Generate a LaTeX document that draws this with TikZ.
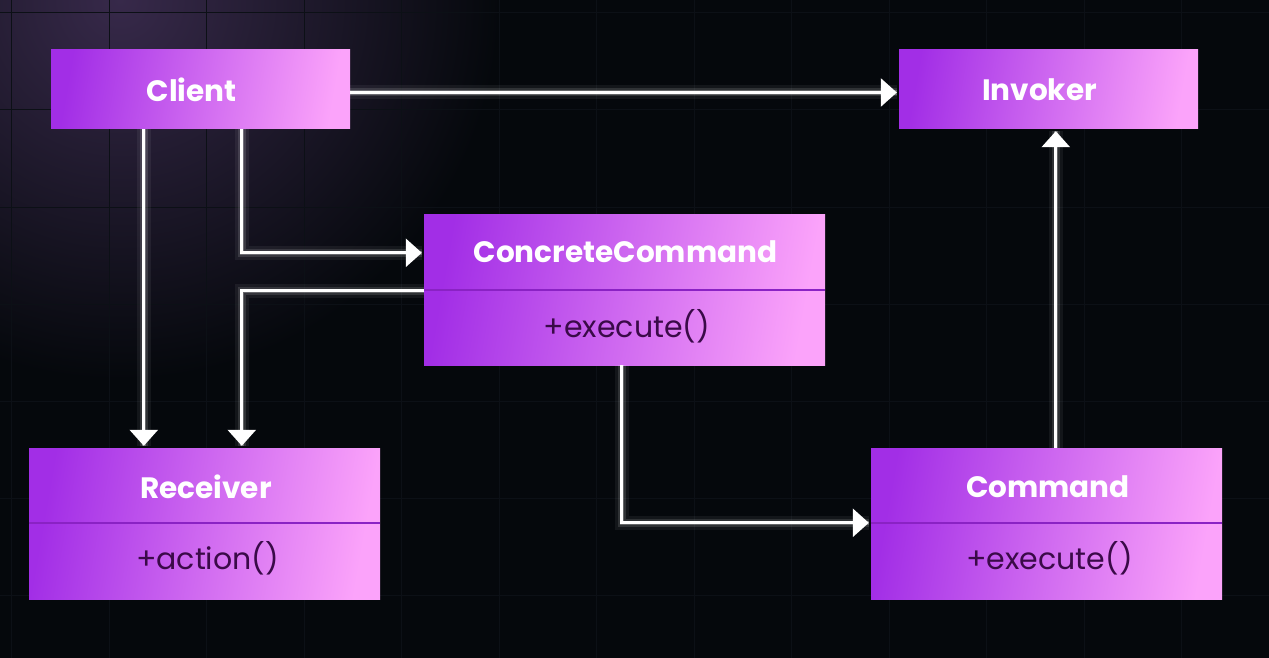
\documentclass[tikz,border=0pt]{standalone}
\usepackage{fontspec}
\setmainfont{Poppins}
\newfontfamily\popbold{Poppins Bold}
\usetikzlibrary{arrows.meta,calc}
\definecolor{bgc}{HTML}{05080C}
\definecolor{gridc}{HTML}{0C1016}
\definecolor{glowc}{HTML}{37294A}
\definecolor{boxl}{HTML}{A22EE6}
\definecolor{boxr}{HTML}{FBA3FA}
\definecolor{divc}{HTML}{8A22C4}
\definecolor{methc}{HTML}{3A0A48}
\tikzset{
  box/.style={draw=none, rectangle, inner sep=0pt, left color=boxl, right color=boxr, shading angle=80},
  title/.style={font=\popbold\fontsize{29.5}{34}\selectfont, text=white},
  meth/.style={font=\fontsize{30}{34}\selectfont, text=methc},
  divline/.style={draw=divc, line width=1.6pt},
  conn/.style={draw=white, line width=2.8pt, -{Triangle[width=28pt,length=16pt]}, shorten >=2pt,
    preaction={draw=white, draw opacity=0.06, line width=14pt, -},
    preaction={draw=white, draw opacity=0.12, line width=8pt, -},
    preaction={draw=white, draw opacity=0.25, line width=4.5pt, -}},
}
\begin{document}
\begin{tikzpicture}[x=1pt,y=-1pt]
\useasboundingbox (0,0) rectangle (1269,658);
\begin{scope}
\clip (0,0) rectangle (1269,658);
\fill[bgc] (0,0) rectangle (1269,658);
\shade[inner color=glowc, outer color=bgc] (120,0) circle (380);
\foreach \i in {0,...,12} {\draw[gridc, line width=1pt] (11.5+97.5*\i,0) -- (11.5+97.5*\i,658);}
\foreach \j in {0,...,6} {\draw[gridc, line width=1pt] (0,13+97*\j) -- (1269,13+97*\j);}
\end{scope}

% boxes
\node[box, minimum width=299pt, minimum height=79pt] (client) at (200.5,89.5) {};
\node[title] (clientt) at (191.5,89.5) {Client};
\node[box, minimum width=299pt, minimum height=79pt] (invoker) at (1048.5,89.5) {};
\node[title] (invokert) at (1039.5,89.5) {Invoker};

\node[box, minimum width=401pt, minimum height=151pt] (cc) at (624.5,289.5) {};
\node[title] (cct) at (625.5,252) {ConcreteCommand};
\node[meth] (ccm) at (627,326) {+execute()};
\draw[divline] ($(cc.north west)+(0,76)$) -- ($(cc.north east)+(0,76)$);

\node[box, minimum width=351pt, minimum height=151pt] (receiver) at (204.5,523.5) {};
\node[title] (receivert) at (206,487) {Receiver};
\node[meth] (receiverm) at (207.5,558) {+action()};
\draw[divline] ($(receiver.north west)+(0,75)$) -- ($(receiver.north east)+(0,75)$);

\node[box, minimum width=351pt, minimum height=151pt] (command) at (1046.5,523.5) {};
\node[title] (commandt) at (1048,487) {Command};
\node[meth] (commandm) at (1049.5,558) {+execute()};
\draw[divline] ($(command.north west)+(0,75)$) -- ($(command.north east)+(0,75)$);

% connectors
\draw[conn] ([yshift=-3pt]client.east) -- ([yshift=-3pt]invoker.west);
\draw[conn] ($(client.south west)+(93,0)$) -- ($(receiver.north west)+(115,0)$);
\draw[conn] ($(client.south west)+(191,0)$) |- ($(cc.north west)+(0,39)$);
\draw[conn] ($(cc.north west)+(0,77)$) -| ($(receiver.north west)+(213,0)$);
\draw[conn] ($(cc.south west)+(198,0)$) |- ($(command.north west)+(0,75)$);
\draw[conn] ($(command.north west)+(185,0)$) -- ($(invoker.south west)+(157,0)$);
\end{tikzpicture}
\end{document}
